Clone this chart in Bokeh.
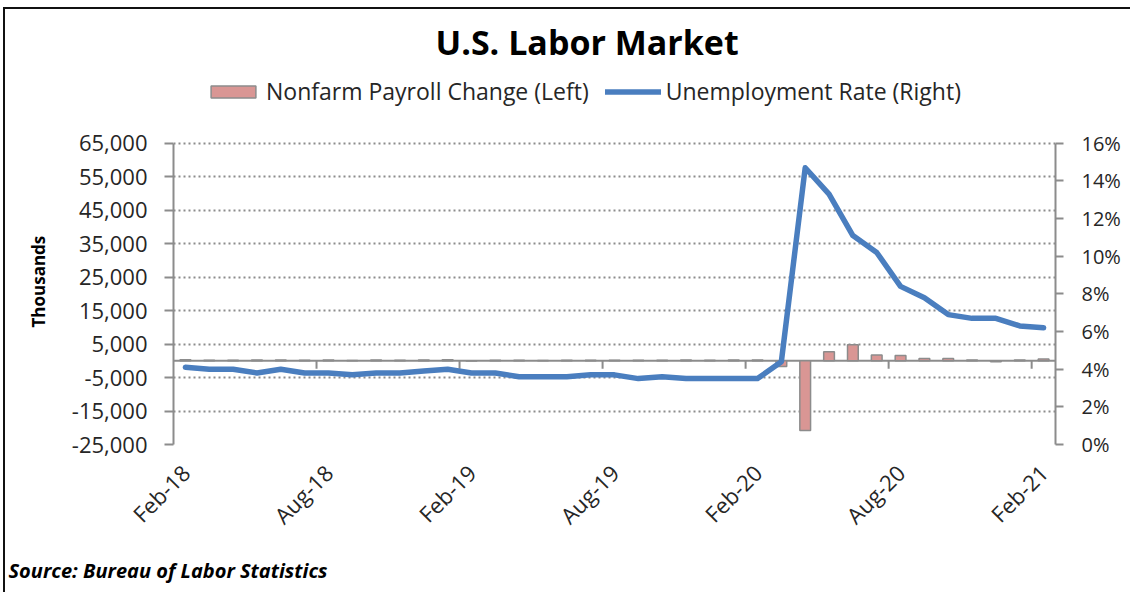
import math
from bokeh.plotting import figure
from bokeh.models import (Range1d, LinearAxis, FixedTicker, NumeralTickFormatter,
                          PrintfTickFormatter, Legend, LegendItem, Title, Span,
                          ColumnDataSource)
from bokeh.embed import file_html
from bokeh.resources import INLINE

months = ["Feb-18", "Mar-18", "Apr-18", "May-18", "Jun-18", "Jul-18", "Aug-18",
          "Sep-18", "Oct-18", "Nov-18", "Dec-18", "Jan-19", "Feb-19", "Mar-19",
          "Apr-19", "May-19", "Jun-19", "Jul-19", "Aug-19", "Sep-19", "Oct-19",
          "Nov-19", "Dec-19", "Jan-20", "Feb-20", "Mar-20", "Apr-20", "May-20",
          "Jun-20", "Jul-20", "Aug-20", "Sep-20", "Oct-20", "Nov-20", "Dec-20",
          "Jan-21", "Feb-21"]
payroll_change = [330, 182, 196, 270, 235, 178, 282, 108, 250, 196, 227,
                  312, -50, 147, 210, 85, 182, 194, 207, 208, 185, 261, 184,
                  214, 251, -1683, -20787, 2725, 4781, 1726, 1583, 716, 680,
                  264, -306, 233, 536]
unemployment_rate = [4.1, 4.0, 4.0, 3.8, 4.0, 3.8, 3.8, 3.7, 3.8, 3.8, 3.9,
                     4.0, 3.8, 3.8, 3.6, 3.6, 3.6, 3.7, 3.7, 3.5, 3.6, 3.5, 3.5,
                     3.5, 3.5, 4.4, 14.7, 13.3, 11.1, 10.2, 8.4, 7.8, 6.9,
                     6.7, 6.7, 6.3, 6.2]
left_ticks = [-25000, -15000, -5000, 5000, 15000, 25000, 35000, 45000, 55000, 65000]
right_ticks = [0, 2, 4, 6, 8, 10, 12, 14, 16]

FONT = "Open Sans"
GRAY = "#8C8C8C"
TXT = "#262626"

# layout (pixels)
W, H = 1127, 585
DATA_PX = 302          # height of the data area (65,000 .. -25,000)
FRAME_PX = 375         # frame extends above the data area to hold the legend
top_left = left_ticks[0] + (left_ticks[-1] - left_ticks[0]) * FRAME_PX / DATA_PX
top_right = right_ticks[0] + (right_ticks[-1] - right_ticks[0]) * FRAME_PX / DATA_PX

xs = [i + 0.5 for i in range(len(months))]
src = ColumnDataSource(dict(x=xs, payroll=payroll_change, rate=unemployment_rate))

p = figure(width=W, height=H, output_backend="svg", toolbar_location=None,
           x_range=Range1d(0, len(months)), y_range=Range1d(left_ticks[0], top_left),
           min_border_left=167, min_border_right=77, min_border_top=61,
           min_border_bottom=149)
p.extra_y_ranges = {"rate": Range1d(right_ticks[0], top_right)}
p.outline_line_color = None
p.background_fill_color = "white"
p.border_fill_color = "white"
p.styles = {"border-left": "2px solid #111", "border-top": "2px solid #111",
            "margin-left": "3px", "margin-top": "7px"}

# grid
p.xgrid.visible = False
p.ygrid.ticker = FixedTicker(ticks=left_ticks)
p.ygrid.grid_line_color = GRAY
p.ygrid.grid_line_width = 2
p.ygrid.grid_line_dash = "2 3"

# bars
bars = p.vbar(x="x", top="payroll", width=0.45, source=src,
              fill_color="#D99694", line_color=GRAY, line_width=1.5)

# category axis crossing at zero
zero = Span(location=0, dimension="width", line_color=GRAY, line_width=2, level="underlay")
p.add_layout(zero)
tick_pos = list(range(6, len(months), 6))
tick_len = (left_ticks[-1] - left_ticks[0]) / DATA_PX * 8
p.segment(x0=tick_pos, y0=[0] * len(tick_pos), x1=tick_pos,
          y1=[-tick_len] * len(tick_pos), line_color=GRAY, line_width=2)

# line
line = p.line(x="x", y="rate", source=src, y_range_name="rate",
              line_color="#4A7EBF", line_width=5.5, line_join="round", line_cap="round")

# left axis
ya = p.yaxis[0]
ya.bounds = (left_ticks[0], left_ticks[-1])
ya.ticker = FixedTicker(ticks=left_ticks)
ya.formatter = NumeralTickFormatter(format="0,0")
ya.axis_line_color = GRAY
ya.axis_line_width = 2
ya.major_tick_line_color = GRAY
ya.major_tick_line_width = 2
ya.major_tick_out = 9
ya.major_tick_in = 0
ya.minor_tick_line_color = None
ya.major_label_text_font = FONT
ya.major_label_text_font_size = "22px"
ya.major_label_text_color = TXT
ya.major_label_standoff = 17

# axis title, placed next to the data area rather than the whole frame
ytitle = Title(text="Thousands", align="left", offset=117, standoff=38,
               text_font=FONT, text_font_size="17px", text_font_style="bold",
               text_color="black")
p.add_layout(ytitle, "left")

# right axis
ra = LinearAxis(y_range_name="rate", ticker=FixedTicker(ticks=right_ticks),
                formatter=PrintfTickFormatter(format="%d%%"),
                bounds=(right_ticks[0], right_ticks[-1]))
ra.axis_line_color = GRAY
ra.axis_line_width = 2
ra.major_tick_line_color = GRAY
ra.major_tick_line_width = 2
ra.major_tick_out = 8
ra.major_tick_in = 0
ra.minor_tick_line_color = None
ra.major_label_text_font = FONT
ra.major_label_text_font_size = "20px"
ra.major_label_text_color = TXT
ra.major_label_standoff = 18
p.add_layout(ra, "right")

# bottom axis (labels only)
xa = p.xaxis[0]
xa.ticker = FixedTicker(ticks=[xs[i] for i in range(0, len(months), 6)])
xa.major_label_overrides = {xs[i]: months[i] for i in range(0, len(months), 6)}
xa.axis_line_color = None
xa.major_tick_line_color = None
xa.minor_tick_line_color = None
xa.major_label_orientation = math.pi / 4
xa.major_label_standoff = 18
xa.major_label_text_font = FONT
xa.major_label_text_font_size = "22px"
xa.major_label_text_color = TXT

# legend (inside the extended frame, above the data area)
legend = Legend(items=[LegendItem(label="Nonfarm Payroll Change (Left)", renderers=[bars]),
                       LegendItem(label="Unemployment Rate (Right)", renderers=[line])],
                orientation="horizontal", location=(32, 337),
                glyph_width=56, glyph_height=15, label_text_font=FONT,
                label_text_font_size="23px", label_text_color=TXT,
                label_standoff=5, spacing=16, padding=0, margin=0,
                border_line_color=None, background_fill_alpha=0)
p.add_layout(legend)

# title
p.title.text = "U.S.  Labor  Market"
p.title.align = "left"
p.title.text_font = FONT
p.title.text_font_size = "34px"
p.title.text_font_style = "bold"
p.title.text_color = "black"
p.title.offset = 262
p.title.standoff = 11

# source
src_title = Title(text="Source: Bureau of Labor Statistics", align="left",
                  text_font=FONT, text_font_size="20px", text_font_style="bold italic",
                  text_color="black", offset=-165, standoff=22)
p.add_layout(src_title, "below")

open("out.html", "w").write(file_html(p, INLINE))
